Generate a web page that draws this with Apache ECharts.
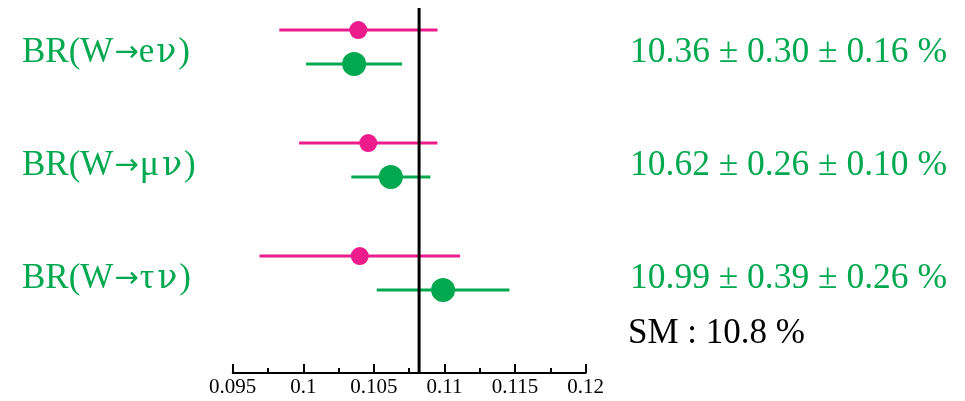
<!DOCTYPE html>
<html>
<head>
<meta charset="utf-8">
<script src="https://cdn.jsdelivr.net/npm/echarts@6/dist/echarts.min.js"></script>
<style>
  html, body { margin: 0; padding: 0; background: #fff; }
  #chart { width: 965px; height: 401px; }
</style>
</head>
<body>
<div id="chart"></div>
<script>
// Lepton-universality summary of W branching ratios
const channels = ['BR(W→eν)', 'BR(W→μν)', 'BR(W→τν)'];
const resultTexts = ['10.36 ± 0.30 ± 0.16 %', '10.62 ± 0.26 ± 0.10 %', '10.99 ± 0.39 ± 0.26 %'];

// combined measurement (green) and its total uncertainty
const combinedValues = [0.1036, 0.1062, 0.1099];
const combinedErrors = [0.0034, 0.0028, 0.0047];

// individual measurement (magenta) and its uncertainty
const singleValues = [0.1039, 0.1046, 0.1040];
const singleErrors = [0.0056, 0.0049, 0.0071];

const smValue = 0.1082;
const smText = 'SM : 10.8 %';

const xTicks = { min: 0.095, max: 0.12, step: 0.005 };

const PINK = '#EC1C8C';
const GREEN = '#00A84F';
const SERIF = '"Liberation Serif", "DejaVu Serif", serif';
const FONT_SIZE = 35;

// rows sit at 0,1,2 on a hidden value axis; the two measurements are offset within a row
const ROW_OFFSET = 0.15;

const singlePoints = singleValues.map((v, i) => [v, i - ROW_OFFSET, singleErrors[i]]);
const combinedPoints = combinedValues.map((v, i) => [v, i + ROW_OFFSET, combinedErrors[i]]);
const rowRecords = channels.map((c, i) => [xTicks.min, i]);

function errorBar(color, width) {
  return function (params, api) {
    const x = api.value(0), y = api.value(1), e = api.value(2);
    const p1 = api.coord([x - e, y]);
    const p2 = api.coord([x + e, y]);
    return {
      type: 'line',
      shape: { x1: p1[0], y1: p1[1], x2: p2[0], y2: p2[1] },
      style: { stroke: color, lineWidth: width }
    };
  };
}

// arrow in a sans face (long, mid height); Greek letters set wide like a symbol font
function channelRich(label) {
  let out = '';
  for (const ch of label) {
    if (ch === '→') out += '{arr|→}';
    else if (ch === 'ν') out += '{nu|ν}';
    else if (ch === 'μ' || ch === 'τ') out += '{gr|' + ch + '}';
    else out += ch;
  }
  return out;
}

const chart = echarts.init(document.getElementById('chart'), null, { renderer: 'canvas' });

chart.setOption({
  animation: false,
  backgroundColor: '#fff',
  grid: { left: 232.7, right: 379.3, top: 8, bottom: 28, containLabel: false },
  xAxis: {
    type: 'value',
    min: xTicks.min,
    max: xTicks.max,
    interval: xTicks.step,
    position: 'bottom',
    axisLine: { show: true, onZero: false, lineStyle: { color: '#000', width: 2 } },
    axisTick: { show: true, inside: true, length: 9, lineStyle: { color: '#000', width: 2 } },
    minorTick: { show: true, splitNumber: 2, length: 5, lineStyle: { color: '#000', width: 2 } },
    splitLine: { show: false },
    axisLabel: {
      color: '#000',
      fontFamily: SERIF,
      fontSize: 21,
      margin: 4,
      formatter: v => String(+v.toFixed(3))
    }
  },
  yAxis: {
    type: 'value',
    inverse: true,
    min: -0.345,
    max: 2.885,
    show: false
  },
  graphic: [{
    type: 'text',
    left: 628,
    top: 316,
    style: { text: smText, fill: '#000', font: FONT_SIZE + 'px ' + SERIF }
  }],
  series: [
    {
      type: 'custom',
      name: 'single-bars',
      renderItem: errorBar(PINK, 3),
      data: singlePoints,
      encode: { x: 0, y: 1 },
      z: 2,
      silent: true
    },
    {
      type: 'scatter',
      name: 'single',
      data: singlePoints,
      symbol: 'circle',
      symbolSize: 18,
      itemStyle: { color: PINK, opacity: 1 },
      z: 3,
      silent: true
    },
    {
      type: 'custom',
      name: 'combined-bars',
      renderItem: errorBar(GREEN, 3),
      data: combinedPoints,
      encode: { x: 0, y: 1 },
      z: 2,
      silent: true
    },
    {
      type: 'scatter',
      name: 'combined',
      data: combinedPoints,
      symbol: 'circle',
      symbolSize: 24,
      itemStyle: { color: GREEN, opacity: 1 },
      z: 3,
      silent: true
    },
    {
      // Standard Model expectation, full height of the plot
      type: 'custom',
      name: 'sm',
      data: [[smValue, 0]],
      encode: { x: 0, y: 1 },
      z: 10,
      silent: true,
      renderItem: function (params, api) {
        const x = api.coord([api.value(0), 0])[0];
        const cs = params.coordSys;
        return {
          type: 'line',
          shape: { x1: x, y1: cs.y, x2: x, y2: cs.y + cs.height },
          style: { stroke: '#000', lineWidth: 3 }
        };
      }
    },
    {
      // channel names on the left, results on the right
      type: 'custom',
      name: 'row-texts',
      data: rowRecords,
      encode: { x: 0, y: 1 },
      silent: true,
      z: 5,
      renderItem: function (params, api) {
        const y = api.coord([api.value(0), api.value(1)])[1] + 6;
        const i = params.dataIndex;
        const font = FONT_SIZE + 'px ' + SERIF;
        return {
          type: 'group',
          children: [
            {
              type: 'text',
              x: 22, y: y,
              style: {
                text: channelRich(channels[i]),
                fill: GREEN, font: font, verticalAlign: 'middle', align: 'left',
                rich: {
                  arr: { fontFamily: '"DejaVu Sans"', fontSize: 29, fill: GREEN, padding: [0, 0, 0, 1] },
                  nu: { fontFamily: '"DejaVu Serif"', fontSize: 33, fill: GREEN, padding: [0, 2, 0, 2] },
                  gr: { fontFamily: SERIF, fontSize: 36, fill: GREEN, padding: [0, 1, 0, 1] }
                }
              }
            },
            {
              type: 'text',
              x: 630, y: y,
              style: { text: resultTexts[i], fill: GREEN, font: '35.5px ' + SERIF, verticalAlign: 'middle', align: 'left' }
            }
          ]
        };
      }
    }
  ]
});
</script>
</body>
</html>
